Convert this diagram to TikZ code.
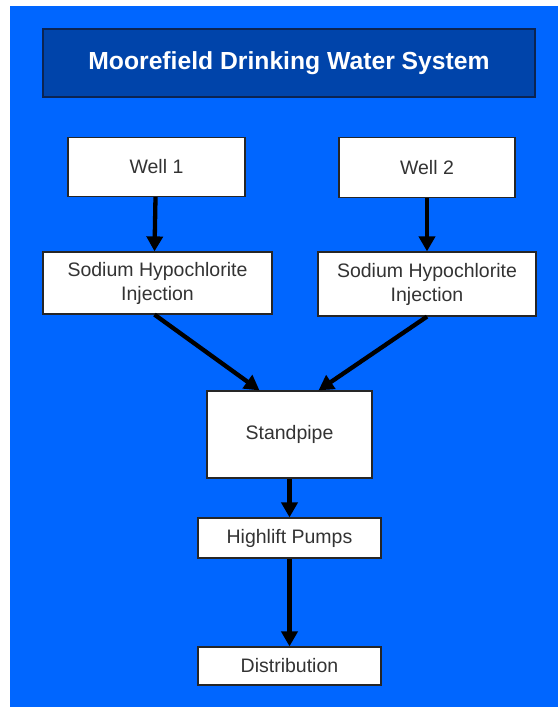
\documentclass[tikz,border=0pt]{standalone}
\usepackage{fontspec}
\setmainfont{Liberation Sans}
\usetikzlibrary{arrows.meta}
\definecolor{bgblue}{HTML}{0066FF}
\definecolor{titleblue}{HTML}{0044AA}
\definecolor{titleedge}{HTML}{0B2452}
\definecolor{txtgray}{HTML}{333333}
\begin{document}
\begin{tikzpicture}[x=1pt,y=-1pt,
  box/.style={draw=black!85, line width=1.2pt, fill=white, text=txtgray,
    font=\fontsize{19.5}{24}\selectfont, align=center, inner sep=0pt},
  titlebox/.style={draw=titleedge, line width=1.5pt, fill=titleblue, text=white,
    font=\fontsize{24.7}{28}\selectfont\bfseries, inner sep=0pt},
  flow/.style={line width=4.3pt, -{Triangle[length=15pt,width=16pt]}}]
\useasboundingbox[fill=white] (0,0) rectangle (558,707);
\fill[bgblue] (10,6) rectangle (558,707);
\node[titlebox, minimum width=492pt, minimum height=68pt] (title) at (289,63) {Moorefield Drinking Water System};
\node[box, minimum width=177pt, minimum height=59pt] (w1) at (156.5,167) {\raisebox{-1.5pt}{Well 1}};
\node[box, minimum width=176pt, minimum height=60pt] (w2) at (427,167.5) {\raisebox{-1.5pt}{Well 2}};
\node[box, minimum width=229pt, minimum height=62pt] (s1) at (157.5,283) {\raisebox{-2pt}{Sodium Hypochlorite}\\\raisebox{-2pt}{Injection}};
\node[box, minimum width=218pt, minimum height=64pt] (s2) at (427,284) {\raisebox{-2pt}{Sodium Hypochlorite}\\\raisebox{-2pt}{Injection}};
\node[box, minimum width=165pt, minimum height=87pt] (sp) at (289.5,434.5) {\raisebox{-1.5pt}{Standpipe}};
\node[box, minimum width=183pt, minimum height=40pt] (hp) at (289.5,538) {\raisebox{-1.5pt}{Highlift Pumps}};
\node[box, minimum width=183pt, minimum height=38pt] (di) at (289.5,666) {\raisebox{-1.5pt}{Distribution}};
\draw[flow] ([xshift=-1pt]w1.south) -- ([xshift=-2pt]w1.south |- s1.north);
\draw[flow] (w2.south) -- (w2.south |- s2.north);
\draw[flow] ([xshift=-3pt]s1.south) -- ([xshift=-30pt]sp.north);
\draw[flow] (s2.south) -- ([xshift=29pt]sp.north);
\draw[flow] (sp.south) -- (hp.north);
\draw[flow] (hp.south) -- (di.north);
\end{tikzpicture}
\end{document}
